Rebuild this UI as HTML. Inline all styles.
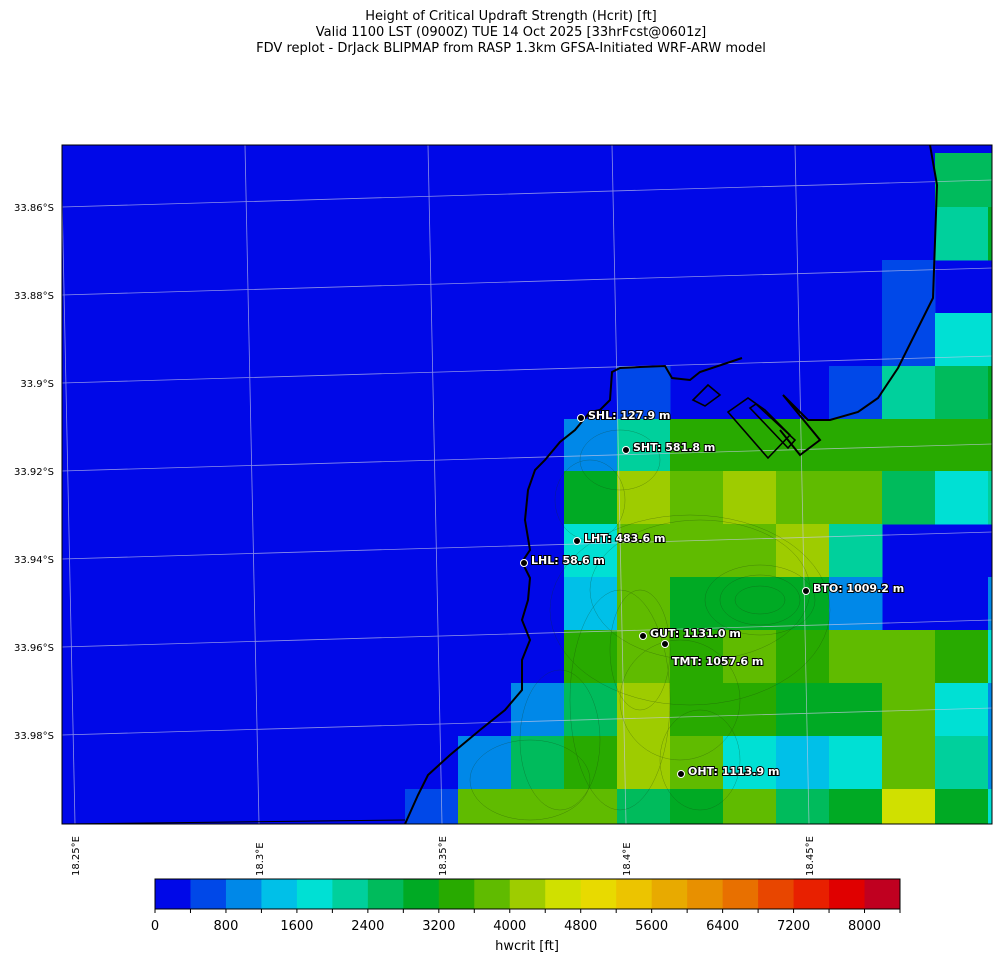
<!DOCTYPE html>
<html><head><meta charset="utf-8"><style>
html,body{margin:0;padding:0;background:#fff;}
body{width:1001px;height:962px;overflow:hidden;font-family:"DejaVu Sans","Liberation Sans",sans-serif;}
svg text{font-family:"DejaVu Sans","Liberation Sans",sans-serif;}
</style></head><body>
<svg id="chart" width="1001" height="962" viewBox="0 0 1001 962" xmlns="http://www.w3.org/2000/svg">
<g font-size="13" text-anchor="middle" fill="#000">
<text x="511" y="20">Height of Critical Updraft Strength (Hcrit) [ft]</text>
<text x="511" y="36">Valid 1100 LST (0900Z) TUE 14 Oct 2025 [33hrFcst@0601z]</text>
<text x="511" y="52">FDV replot - DrJack BLIPMAP from RASP 1.3km GFSA-Initiated WRF-ARW model</text>
</g>
<defs><clipPath id="pc"><rect x="62" y="145" width="930" height="679"/></clipPath></defs>
<rect x="62" y="145" width="930" height="679" fill="#0008e8"/>
<g id="cells" clip-path="url(#pc)"></g>
<g id="grid" clip-path="url(#pc)" stroke="#c8c8e8" stroke-width="0.8" opacity="0.7"></g>
<g clip-path="url(#pc)" fill="none" stroke="#1a3a10" stroke-width="0.5" opacity="0.4">
<ellipse cx="760" cy="600" rx="40" ry="25"/><ellipse cx="760" cy="600" rx="55" ry="35"/><ellipse cx="760" cy="600" rx="25" ry="14"/>
<ellipse cx="700" cy="590" rx="110" ry="70"/><ellipse cx="690" cy="610" rx="140" ry="95"/>
<ellipse cx="640" cy="650" rx="30" ry="60"/><ellipse cx="620" cy="700" rx="50" ry="110"/>
<ellipse cx="560" cy="740" rx="40" ry="70"/><ellipse cx="530" cy="780" rx="60" ry="40"/>
<ellipse cx="590" cy="500" rx="35" ry="40"/><ellipse cx="620" cy="460" rx="40" ry="30"/>
<ellipse cx="680" cy="700" rx="60" ry="60"/><ellipse cx="700" cy="760" rx="40" ry="50"/>
</g>
<g clip-path="url(#pc)" fill="none" stroke="#000" stroke-width="2">
<polyline points="930,145 937,185 933,298 898,368 878,398 858,412 830,420 808,420 783,395 820,440 800,455 780,430"/>
<polyline points="742,358 700,372 690,380 672,378 665,366 640,367 620,368 612,372 610,400 600,410 590,412 575,430 560,442 545,460 535,470 528,490 525,520 530,550 522,562 530,578 528,600 522,620 530,640 522,660 522,690 505,710 480,730 450,755 428,775 418,795 405,824"/>
<polygon points="693,400 708,385 720,395 705,406" stroke-width="1.6"/>
<polygon points="728,412 748,398 765,410 790,435 768,458" stroke-width="1.6"/>
<polygon points="750,408 756,404 795,440 788,448" stroke-width="1.6"/>
<polyline points="62,824 405,820" stroke-width="1"/>
</g>
<rect x="62" y="145" width="930" height="679" fill="none" stroke="#000" stroke-width="1"/>
<g id="lat" font-size="10" text-anchor="end"></g>
<g id="lon" font-size="10"></g>
<g id="stations"></g>
<g id="cbar"></g>
<text x="527" y="950" font-size="13" text-anchor="middle">hwcrit [ft]</text>
</svg>
<script>
const colors=["#0008e8","#0048e8","#0088e8","#00c0e8","#00e0d4","#00d09c","#00bb5c","#00aa24","#28aa00","#60bb00","#9ecc00","#d0e000","#e8da00","#ecc400","#e8aa00","#e89000","#e87000","#e84600","#e82000","#e00000","#c00020"];
const levels=[0,400,800,1200,1600,2000,2400,2800,3200,3600,4000,4400,4800,5200,5600,6000,6400,6800,7200,7600,8000,8400];
const cbTicks=[0,800,1600,2400,3200,4000,4800,5600,6400,7200,8000];
const rowEdges=[145,153,207,260,313,366,419,471,524,577,630,683,736,789,824];
const colEdges=[405,458,511,564,617,670,723,776,829,882,935,988,992];
const gridVals=[
[0,0,0,0,0,0,0,0,0,0,0,0],
[0,0,0,0,0,0,0,0,0,0,6,6],
[0,0,0,0,0,0,0,0,0,0,5,7],
[0,0,0,0,0,0,0,0,0,1,0,0],
[0,0,0,0,0,0,0,0,0,1,4,4],
[0,0,0,0,1,0,0,0,1,5,6,7],
[0,0,0,2,5,8,8,8,8,8,8,8],
[0,0,0,7,10,9,10,9,9,6,4,5],
[0,0,0,4,9,9,9,10,5,0,0,0],
[0,0,0,3,9,7,7,7,2,0,0,2],
[0,0,0,8,9,8,9,8,9,9,8,4],
[0,0,2,6,10,8,8,7,7,9,4,2],
[0,2,6,8,10,9,4,3,4,9,5,2],
[1,9,9,9,6,7,9,6,7,11,7,4]];
const latVals=["33.86°S","33.88°S","33.9°S","33.92°S","33.94°S","33.96°S","33.98°S"];
const latY=[207,295,383,471,559,647,735];
const lonVals=["18.25°E","18.3°E","18.35°E","18.4°E","18.45°E"];
const lonX=[75,259,442,626,809];
const stNames=["SHL: 127.9 m","SHT: 581.8 m","LHT: 483.6 m","LHL: 58.6 m","BTO: 1009.2 m","GUT: 1131.0 m","TMT: 1057.6 m","OHT: 1113.9 m"];
const stX=[581,626,577,524,806,643,665,681];
const stY=[418,450,541,563,591,636,644,774];
const NS="http://www.w3.org/2000/svg";
function mk(t,a,p){const e=document.createElementNS(NS,t);for(const k in a)e.setAttribute(k,a[k]);p.appendChild(e);return e;}
const cells=document.getElementById('cells');
gridVals.forEach((row,r)=>row.forEach((v,c)=>{if(v===0)return;
 const e=mk('rect',{x:colEdges[c],y:rowEdges[r],width:colEdges[c+1]-colEdges[c]+0.5,height:rowEdges[r+1]-rowEdges[r]+0.5,fill:colors[v]},cells);
 
 }));
const grid=document.getElementById('grid');
latY.forEach(y=>{const e=mk('line',{x1:62,y1:y,x2:992,y2:y-27},grid);
 
 });
lonX.forEach(x=>{const e=mk('line',{x1:x-14,y1:145,x2:x,y2:824},grid);
 
 });
const lat=document.getElementById('lat');
latVals.forEach((s,i)=>{const e=mk('text',{x:54,y:latY[i]+4},lat);e.textContent=s;
 
 });
const lon=document.getElementById('lon');
lonVals.forEach((s,i)=>{const e=mk('text',{x:0,y:0,transform:`translate(${lonX[i]+4},876) rotate(-90)`},lon);e.textContent=s;
 
 });
const st=document.getElementById('stations');
stNames.forEach((s,i)=>{
 const d=mk('circle',{cx:stX[i],cy:stY[i],r:3.5,fill:'#000',stroke:'#fff','stroke-width':1},st);
 
 
 const tx=stX[i]+7, ty=i===6?stY[i]+21:stY[i]+1;
 const t=mk('text',{x:tx,y:ty,'font-size':11,'font-weight':'bold',fill:'#fff',stroke:'#000','stroke-width':2,'paint-order':'stroke'},st);
 t.textContent=s;
 
 });
const cb=document.getElementById('cbar');
const cbX=v=>155+(v-levels[0])/(levels[levels.length-1]-levels[0])*745;
colors.forEach((c,i)=>{const e=mk('rect',{x:cbX(levels[i]),y:879,width:cbX(levels[i+1])-cbX(levels[i])+0.5,height:30,fill:c},cb);
 
 });
mk('rect',{x:155,y:879,width:745,height:30,fill:'none',stroke:'#000','stroke-width':1},cb);
levels.forEach(v=>{mk('line',{x1:cbX(v),y1:909,x2:cbX(v),y2:913,stroke:'#000'},cb);});
cbTicks.forEach(v=>{const t=mk('text',{x:cbX(v),y:930,'font-size':13,'text-anchor':'middle'},cb);t.textContent=v;
 
 });
</script>
</body></html>
